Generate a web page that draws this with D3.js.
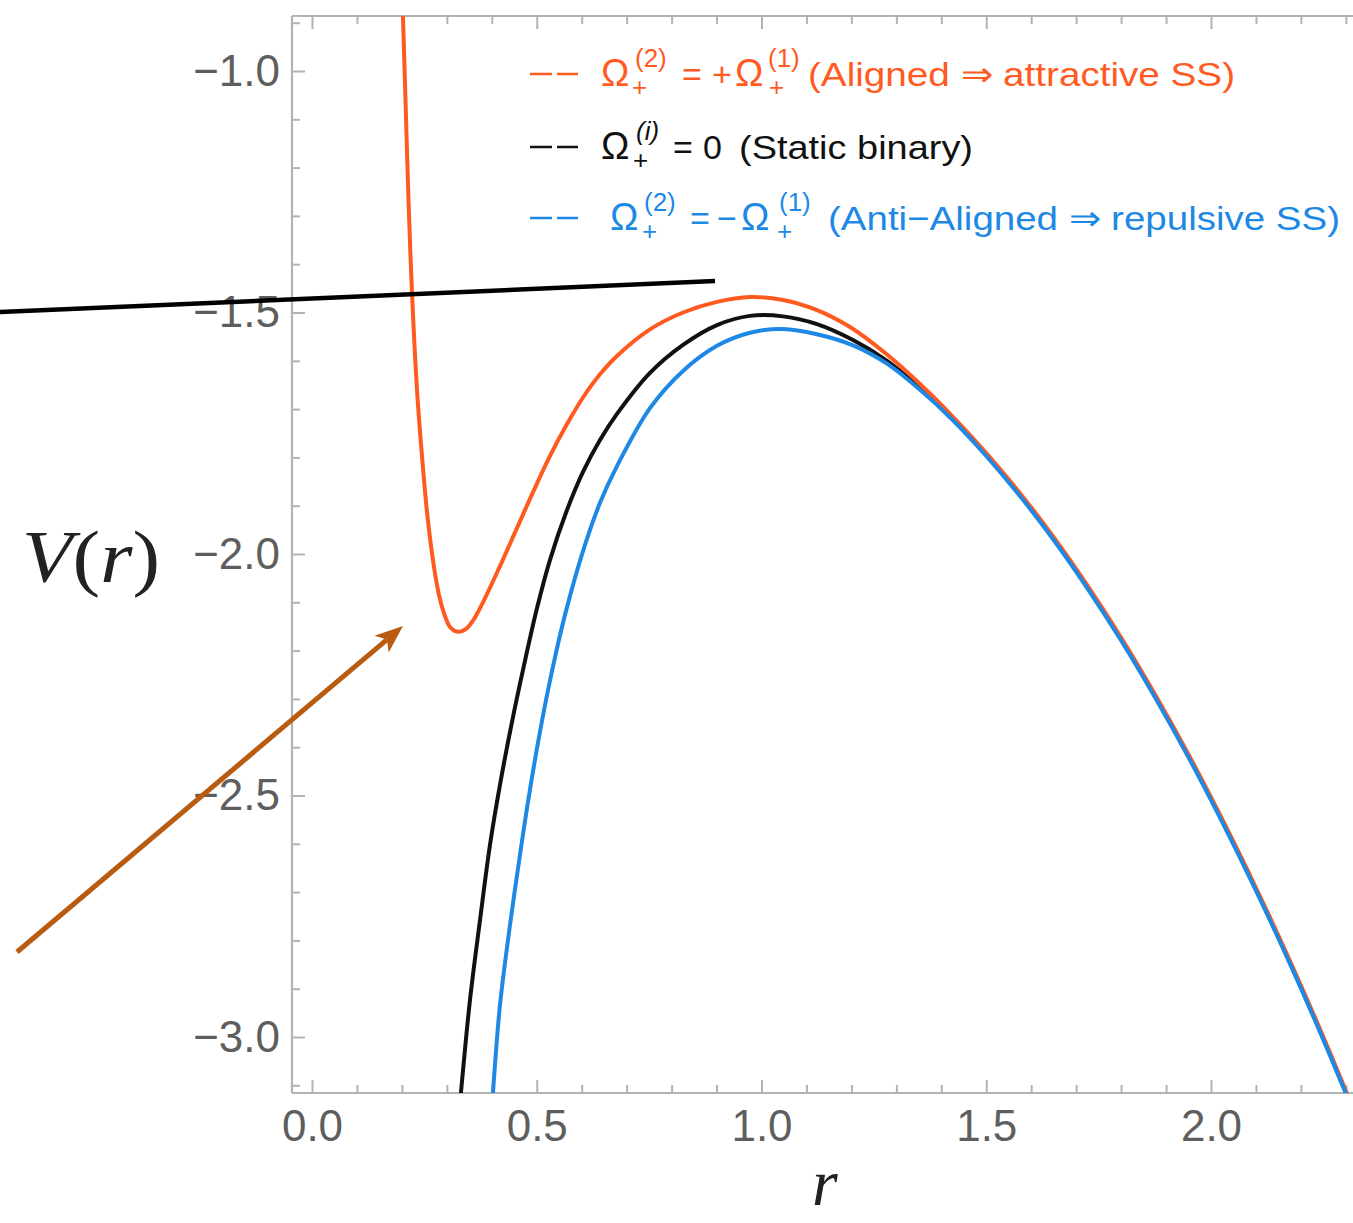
<!DOCTYPE html>
<html>
<head>
<meta charset="utf-8">
<script src="https://cdn.jsdelivr.net/npm/d3@7"></script>
<style>
html,body{margin:0;padding:0;background:#fff;}
svg{display:block;}
</style>
</head>
<body>
<svg id="chart" width="1353" height="1223"></svg>
<script>
// ---------------- DATA ----------------
const xMajorTicks = [0, 0.5, 1.0, 1.5, 2.0];
const xTickLabels = ["0.0", "0.5", "1.0", "1.5", "2.0"];
const yMajorTicks = [-1.0, -1.5, -2.0, -2.5, -3.0];
const yTickLabels = ["\u22121.0", "\u22121.5", "\u22122.0", "\u22122.5", "\u22123.0"];

// Aligned (orange)
const rAligned = [0.2000,0.2024,0.2080,0.2147,0.2225,0.2336,0.2436,0.2570,0.2714,0.2825,0.2914,0.3070,0.3248,0.3426,0.3582,0.3804,0.4182,0.4561,0.4917,0.5295,0.5673,0.6029,0.6407,0.6785,0.7519,0.8254,0.9010,0.9744,1.0478,1.1235,1.1969,1.2792,1.3526,1.4260,1.5000,1.5750,1.6500,1.7250,1.8000,1.8750,1.9500,2.0250,2.1000,2.1750,2.2500,2.3300];
const vAligned = [-0.800,-0.888,-1.060,-1.267,-1.460,-1.660,-1.785,-1.923,-2.027,-2.085,-2.116,-2.151,-2.161,-2.155,-2.138,-2.100,-2.025,-1.946,-1.872,-1.797,-1.731,-1.676,-1.628,-1.590,-1.535,-1.500,-1.478,-1.468,-1.474,-1.495,-1.530,-1.587,-1.648,-1.716,-1.791,-1.874,-1.965,-2.065,-2.173,-2.290,-2.415,-2.549,-2.691,-2.841,-3.000,-3.179];

// Static binary (black)
const rStatic = [0.3233,0.3315,0.3515,0.3738,0.3960,0.4182,0.4449,0.4694,0.5006,0.5295,0.5673,0.6029,0.6407,0.6785,0.7519,0.8254,0.9010,0.9744,1.0478,1.1235,1.2036,1.2792,1.3526,1.4260,1.5000,1.5750,1.6500,1.7250,1.8000,1.8750,1.9500,2.0250,2.1000,2.1750,2.2500,2.3300];
const vStatic = [-3.200,-3.114,-2.923,-2.758,-2.602,-2.478,-2.348,-2.240,-2.112,-2.012,-1.909,-1.830,-1.764,-1.710,-1.625,-1.567,-1.526,-1.507,-1.508,-1.524,-1.557,-1.600,-1.656,-1.719,-1.794,-1.877,-1.968,-2.068,-2.176,-2.293,-2.418,-2.552,-2.694,-2.844,-3.003,-3.182];

// Anti-aligned (blue)
const rAnti = [0.3970,0.4027,0.4182,0.4405,0.4561,0.4783,0.5006,0.5228,0.5451,0.5673,0.6029,0.6407,0.6785,0.7519,0.8254,0.9010,0.9744,1.0478,1.1235,1.2036,1.2792,1.3526,1.4260,1.5000,1.5750,1.6500,1.7250,1.8000,1.8750,1.9500,2.0250,2.1000,2.1750,2.2500,2.3300];
const vAnti = [-3.200,-3.114,-2.934,-2.768,-2.665,-2.526,-2.402,-2.292,-2.195,-2.110,-1.994,-1.894,-1.818,-1.698,-1.621,-1.569,-1.542,-1.534,-1.545,-1.568,-1.606,-1.660,-1.723,-1.797,-1.880,-1.971,-2.071,-2.179,-2.296,-2.421,-2.555,-2.697,-2.847,-3.006,-3.185];

const seriesNames = ["static", "aligned", "anti"];
const seriesColors = {aligned: "#ff5a1f", static: "#111111", anti: "#1e88e5"};

// Annotations (in data coordinates)
const annotLine = [[-0.6941, -1.4990], [0.8966, -1.4348]];
const annotArrow = [[-0.6563, -2.8240], [0.2024, -2.1491]];

// ---------------- LAYOUT ----------------
const svg = d3.select("#chart");
const frame = {left: 292, top: 16, bottom: 1093, right: 1370};
const x = d3.scaleLinear().domain([0, 2]).range([312, 1211]);
const y = d3.scaleLinear().domain([-1, -3]).range([71, 1037]);

const frameColor = "#b3b3b3";
const tickTextColor = "#5e5e5e";
const tickFont = "'Liberation Sans', Arial, sans-serif";

svg.append("defs").append("clipPath").attr("id", "plotclip")
  .append("rect").attr("x", frame.left).attr("y", frame.top)
  .attr("width", frame.right - frame.left).attr("height", frame.bottom - frame.top);

const fr = svg.append("g");
fr.append("line").attr("x1", frame.left).attr("x2", frame.left).attr("y1", frame.top).attr("y2", frame.bottom);
fr.append("line").attr("x1", frame.left).attr("x2", frame.right).attr("y1", frame.top).attr("y2", frame.top);
fr.append("line").attr("x1", frame.left).attr("x2", frame.right).attr("y1", frame.bottom).attr("y2", frame.bottom);
fr.selectAll("line").attr("stroke", frameColor).attr("stroke-width", 2.2);

const xMinor = d3.range(0, 2.35, 0.1).map(v => +v.toFixed(2)).filter(v => !xMajorTicks.some(m => Math.abs(m - v) < 1e-6));
const yMinor = d3.range(-0.9, -3.15, -0.1).map(v => +v.toFixed(2)).filter(v => !yMajorTicks.some(m => Math.abs(m - v) < 1e-6));

function styleAxis(g) {
  g.select(".domain").remove();
  g.selectAll(".tick line").attr("stroke", frameColor).attr("stroke-width", 2);
  g.selectAll(".tick text").attr("fill", tickTextColor).style("font-family", tickFont).style("font-size", "44px");
}

svg.append("g").attr("transform", `translate(0,${frame.bottom})`)
  .call(d3.axisBottom(x).tickValues(xMajorTicks).tickFormat((d, i) => xTickLabels[i]).tickSize(-13).tickPadding(17))
  .call(styleAxis);
svg.append("g").attr("transform", `translate(0,${frame.bottom})`)
  .call(d3.axisBottom(x).tickValues(xMinor).tickFormat("").tickSize(-8))
  .call(styleAxis);
svg.append("g").attr("transform", `translate(0,${frame.top})`)
  .call(d3.axisTop(x).tickValues(xMajorTicks).tickFormat("").tickSize(-13))
  .call(styleAxis);
svg.append("g").attr("transform", `translate(0,${frame.top})`)
  .call(d3.axisTop(x).tickValues(xMinor).tickFormat("").tickSize(-8))
  .call(styleAxis);
svg.append("g").attr("transform", `translate(${frame.left},0)`)
  .call(d3.axisLeft(y).tickValues(yMajorTicks).tickFormat((d, i) => yTickLabels[i]).tickSize(-13).tickPadding(12))
  .call(styleAxis);
svg.append("g").attr("transform", `translate(${frame.left},0)`)
  .call(d3.axisLeft(y).tickValues(yMinor).tickFormat("").tickSize(-8))
  .call(styleAxis);

// curves
const line = d3.line().x(d => x(d[0])).y(d => y(d[1])).curve(d3.curveCatmullRom.alpha(0.5));
const seriesData = {
  aligned: d3.zip(rAligned, vAligned),
  static: d3.zip(rStatic, vStatic),
  anti: d3.zip(rAnti, vAnti)
};
const curves = svg.append("g").attr("clip-path", "url(#plotclip)");
seriesNames.forEach(k => {
  curves.append("path").datum(seriesData[k])
    .attr("d", line)
    .attr("fill", "none")
    .attr("stroke", seriesColors[k])
    .attr("stroke-width", 4)
    .attr("stroke-linejoin", "round")
    .attr("stroke-linecap", "round");
});

// axis labels
const serif = "'Liberation Serif', 'DejaVu Serif', serif";
const yl = svg.append("text").attr("x", 22).attr("y", 582)
  .style("font-family", serif).style("font-size", "74px").attr("fill", "#222")
  .attr("textLength", 138).attr("lengthAdjust", "spacingAndGlyphs");
yl.append("tspan").style("font-style", "italic").text("V");
yl.append("tspan").text("(");
yl.append("tspan").style("font-style", "italic").text("r");
yl.append("tspan").text(")");

svg.append("text").attr("x", 812).attr("y", 1205)
  .style("font-family", serif).style("font-size", "66px").style("font-style", "italic")
  .attr("fill", "#222").text("r");

// legend
const legFont = "'Liberation Sans', Arial, sans-serif";
const legendRows = [
  {key: "aligned", base: 86,
   parts: [
     {t: "\u03A9", x: 601, dy: 0, s: 38},
     {t: "(2)", x: 635, dy: -19, s: 26},
     {t: "+", x: 632, dy: 10, s: 26},
     {t: "=", x: 682, dy: 0, s: 34},
     {t: "+", x: 712, dy: 0, s: 34},
     {t: "\u03A9", x: 735, dy: 0, s: 38},
     {t: "(1)", x: 768, dy: -19, s: 26},
     {t: "+", x: 769, dy: 10, s: 26},
     {t: "(Aligned \u21D2 attractive SS)", x: 808, dy: 0, s: 34, len: 427}
   ]},
  {key: "static", base: 159,
   parts: [
     {t: "\u03A9", x: 601, dy: 0, s: 38},
     {t: "(i)", x: 636, dy: -19, s: 26, it: true},
     {t: "+", x: 633, dy: 10, s: 26},
     {t: "=", x: 673, dy: 0, s: 34},
     {t: "0", x: 703, dy: 0, s: 34},
     {t: "(Static binary)", x: 739, dy: 0, s: 34, len: 234}
   ]},
  {key: "anti", base: 230,
   parts: [
     {t: "\u03A9", x: 610, dy: 0, s: 38},
     {t: "(2)", x: 644, dy: -19, s: 26},
     {t: "+", x: 642, dy: 10, s: 26},
     {t: "=", x: 690, dy: 0, s: 34},
     {t: "\u2212", x: 717, dy: 0, s: 34},
     {t: "\u03A9", x: 741, dy: 0, s: 38},
     {t: "(1)", x: 779, dy: -19, s: 26},
     {t: "+", x: 777, dy: 10, s: 26},
     {t: "(Anti\u2212Aligned \u21D2 repulsive SS)", x: 828, dy: 0, s: 34, len: 512}
   ]}
];
const leg = svg.append("g");
legendRows.forEach(row => {
  const c = seriesColors[row.key];
  leg.append("line").attr("x1", 530).attr("x2", 578)
    .attr("y1", row.base - 12).attr("y2", row.base - 12)
    .attr("stroke", c).attr("stroke-width", 2.6).attr("stroke-dasharray", "22,5");
  row.parts.forEach(p => {
    const t = leg.append("text").attr("x", p.x).attr("y", row.base + p.dy)
      .attr("fill", c).style("font-family", legFont).style("font-size", p.s + "px")
      .text(p.t);
    if (p.it) t.style("font-style", "italic");
    if (p.len) t.attr("textLength", p.len).attr("lengthAdjust", "spacingAndGlyphs");
  });
});

// annotation: black straight line
svg.append("line")
  .attr("x1", x(annotLine[0][0])).attr("y1", y(annotLine[0][1]))
  .attr("x2", x(annotLine[1][0])).attr("y2", y(annotLine[1][1]))
  .attr("stroke", "#000").attr("stroke-width", 4.5);

// annotation: brown arrow
const arrowColor = "#b85c12";
const ax0 = x(annotArrow[0][0]), ay0 = y(annotArrow[0][1]);
const ax1 = x(annotArrow[1][0]), ay1 = y(annotArrow[1][1]);
const L = Math.hypot(ax1 - ax0, ay1 - ay0);
const ux = (ax1 - ax0) / L, uy = (ay1 - ay0) / L;
const px = -uy, py = ux;
const headLen = 28, headW = 11, notch = 7;
svg.append("line")
  .attr("x1", ax0).attr("y1", ay0)
  .attr("x2", ax1 - ux * (headLen - notch)).attr("y2", ay1 - uy * (headLen - notch))
  .attr("stroke", arrowColor).attr("stroke-width", 5);
const bx = ax1 - ux * headLen, by = ay1 - uy * headLen;
svg.append("path")
  .attr("d", `M${ax1},${ay1} L${bx + px * headW},${by + py * headW} L${ax1 - ux * (headLen - notch)},${ay1 - uy * (headLen - notch)} L${bx - px * headW},${by - py * headW} Z`)
  .attr("fill", arrowColor);
</script>
</body>
</html>
